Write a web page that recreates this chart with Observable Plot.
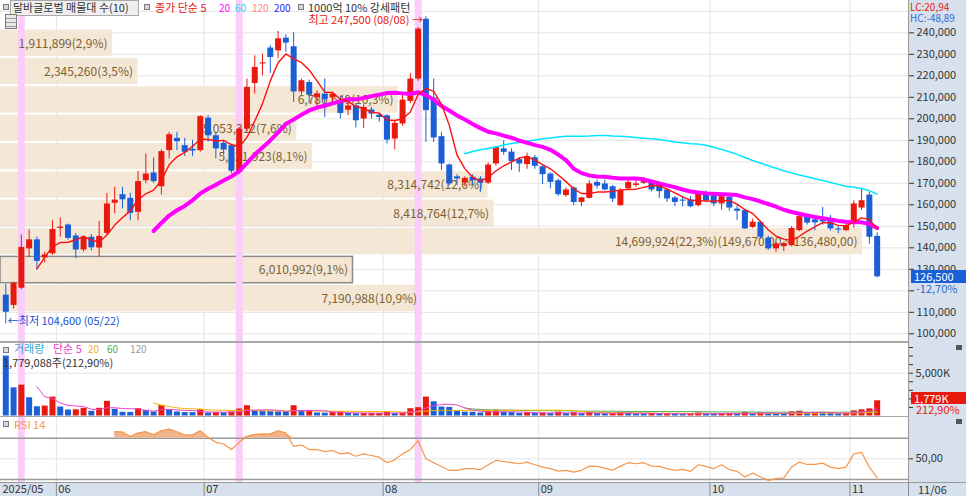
<!DOCTYPE html>
<html>
<head>
<meta charset="utf-8">
<script src="https://cdn.jsdelivr.net/npm/d3@7"></script>
<script src="https://cdn.jsdelivr.net/npm/@observablehq/plot@0.6"></script>
<style>
  body { margin: 0; background: #fff; }
  #wrap { position: relative; width: 966px; height: 496px; overflow: hidden; background: #fff;
          font-family: "Noto Sans CJK KR", "Noto Sans", sans-serif; }
  .t { position: absolute; white-space: nowrap; font-size: 11px; line-height: 11px; }
</style>
</head>
<body>
<div id="wrap"></div>
<script>
// 달바글로벌 일봉 2025/05/22 ~ 2025/11/06
const open = [118000,113200,121200,139500,143700,135300,137200,149000,150600,145500,
  139000,144900,139900,146700,160700,164700,163000,156500,171200,174800,
  168400,185200,190900,187500,185800,185200,200300,192100,188600,187500,
  175100,195200,216400,225500,232900,231600,237500,233500,212500,216900,
  209800,211500,209700,208400,204000,206100,199900,204100,201700,201400,
  190600,197600,208100,218500,246300,209600,191700,178500,173000,170100,
  172800,172000,170100,179000,186000,184500,181000,178700,181900,177700,
  174300,171200,164300,167800,161100,163000,170400,169700,168400,159600,
  167400,169000,170000,170800,169400,166900,163200,162200,162300,159600,
  165800,164200,160400,163500,158000,157300,149500,151800,144500,139500,
  140500,141000,148000,154200,153000,152700,152600,148800,148000,151100,
  158500,164500,145300]
const high = [123000,124000,146000,148300,145000,138000,152600,153900,151000,146700,
  145500,146200,152300,165300,168100,168100,165300,175500,183600,181800,
  185500,193700,193700,190900,190000,201500,201500,193500,190000,188000,
  196000,218500,229300,230100,234000,240600,239000,240100,218500,218000,
  213000,218500,212500,210500,208000,207000,206500,205300,202700,202000,
  199000,211000,221100,242500,247500,218500,193700,179000,173900,173000,
  173900,173100,179500,187000,189800,186000,182000,184000,183000,178500,
  175000,172000,167800,168400,163500,171200,171500,171500,169000,167500,
  172700,171200,172700,171500,170000,167500,163800,163500,163800,165800,
  166500,165500,165000,165000,159600,158000,153400,152500,145500,142600,
  142500,149800,156500,155000,154000,158800,155000,150300,151400,161900,
  167400,165800,147000]
const low = [104600,111500,120500,135600,129700,133000,136500,144900,143500,134900,
  138000,138500,135600,145500,155800,158100,152600,152600,169800,170000,
  164600,181300,185200,182500,182500,184500,189000,181300,183000,174500,
  174000,194000,211500,220000,221100,228000,230900,207600,211000,206900,
  205000,200600,207100,199900,201500,195700,195500,199900,198500,188300,
  185500,196500,207000,217500,189000,189000,176000,168900,169000,168500,
  168700,165800,169500,178000,183000,175900,175100,176500,176500,169400,
  167400,163800,163500,159600,159100,162700,167400,166500,161100,159300,
  166900,168000,169500,166000,163000,161100,159100,159000,158500,159000,
  161000,159000,157500,157000,152600,148500,149000,144000,138800,137900,
  138300,140500,147500,150500,148000,150500,147800,146500,147500,149100,
  157300,141700,126000]
const close = [110000,123500,140200,143700,133700,136700,148500,149600,144400,139000,
  144900,140000,145300,160400,162200,162300,156000,170800,174300,170800,
  184700,192600,189300,184400,185000,201000,192100,186000,185500,175600,
  195200,214600,223900,226000,228500,237200,235200,212500,217700,211000,
  211600,209000,211500,202500,206000,199100,205300,202200,200600,190100,
  197900,208700,218500,241700,203800,191100,179000,169700,172000,172300,
  171200,170000,178500,186700,184400,180100,179000,182400,177900,174000,
  170400,164700,166900,161100,163200,169700,168700,166900,162700,166600,
  170400,169700,171200,166900,166100,162700,161100,161700,159100,165000,
  161900,160400,163800,158500,157000,148800,151900,144900,139500,141800,
  142000,149000,154500,151500,151600,152000,148800,148300,150300,160400,
  161900,144900,126500]
// 거래량 (천 주)
const volK = [7000,3290,3600,2130,1080,1160,2210,1050,700,720,
  900,550,900,1710,780,430,420,850,660,470,
  1240,700,470,400,390,730,350,400,350,470,
  810,1200,580,550,520,480,450,1200,560,600,
  350,330,450,480,300,270,290,320,330,470,
  300,350,850,970,2210,1660,1050,1000,550,450,
  440,350,520,680,450,420,300,380,330,350,
  320,450,300,380,280,420,300,260,320,420,
  380,250,240,300,260,290,240,200,260,360,
  300,250,280,300,260,430,300,380,330,280,
  250,480,560,380,420,350,330,250,320,600,
  720,835.65,1779.088]
// RSI 14 (from the 15th session)
const rsiVals = [76.3,76,71.7,75,76.3,73.4,77.2,78.8,76.3,73,
  73,77.2,70.8,66,64.4,59,66,71.7,73.7,74,
  74,77.2,75,62.1,63.4,59,59,57,58,54.8,
  55.8,52.5,54.8,53.2,51.6,46.2,49,54.8,59,67.6,
  50,46.2,42.6,38.8,38.8,40.4,40.4,39.4,44.2,48.4,
  47.4,46.2,45.2,46.8,44.2,41.9,40.4,38.1,38.8,37.1,
  38.8,42.9,42.6,41,38.8,42.9,46.2,45.2,46.2,42.9,
  42.6,40.4,38.8,39.8,37.8,44.2,42.6,40.4,44.2,39.4,
  37.8,32.3,36.2,32.3,29.1,30.8,31.4,41.9,46.8,44.5,
  44.5,45.8,41.9,40.4,41.9,54.8,56.3,41.9,31.4]
const monthTicks = [{label: "2025/05", i: 0}, {label: "06", i: 7}, {label: "07", i: 26},
  {label: "08", i: 49}, {label: "09", i: 69}, {label: "10", i: 91}, {label: "11", i: 109}]
const eventIdx = [2, 30, 53]   // 1000억 10% 강세패턴
const hiDate = "08/08", loDate = "05/22", lastDate = "11/06"
// 매물대 (10 bands, top to bottom)
const bandHi = [242000,228810,215620,202430,189240,176050,162860,149670,136480,123290]
const bandLo = [228810,215620,202430,189240,176050,162860,149670,136480,123290,110100]
const bandVol = [1911899,2345260,6786640,5053312,5321923,8314742,8418764,14699924,6010992,7190988]
const bandPct = [2.9,3.5,10.3,7.6,8.1,12.6,12.7,22.3,9.1,10.9]

const RED = "#e8190e", BLUE = "#1a5fd6", PINK = "#facdfa", GRID = "#e4e4e4"
const FONT = '"Noto Sans CJK KR","Noto Sans",sans-serif'
const fmt = d3.format(",")
const comma = (v, n) => v.toFixed(n).replace(".", ",")
const wrap = document.getElementById("wrap")

const candles = close.map((c, i) => ({
  i, open: open[i], high: high[i], low: low[i], close: c, vol: volK[i],
  color: c >= open[i] ? RED : BLUE,
  vcolor: i > 0 && volK[i] >= volK[i - 1] ? RED : BLUE
}))
const rsiData = rsiVals.map((r, j) => ({i: j + 14, rsi: r}))
const maxBand = d3.max(bandVol)
const bands = bandVol.map((v, j) => ({
  lo: bandLo[j], hi: bandHi[j], vol: v,
  label: `${fmt(v)}(${comma(bandPct[j], 1)}%)` + (v === maxBand ? `(${fmt(bandHi[j])},00 ~ ${fmt(bandLo[j])},00)` : "")
}))
const last = candles[candles.length - 1], prev = candles[candles.length - 2]
const hiC = candles[d3.maxIndex(high)], loC = candles[d3.minIndex(low)]

const base = (h, extra = {}) => ({
  width: 966, height: h, marginLeft: 0, marginRight: 58, marginTop: 0, marginBottom: 0,
  style: Object.assign({background: "transparent", fontFamily: FONT, fontSize: "11px", color: "#333", overflow: "visible"}, extra)
})
const xIdx = {domain: [-0.68, 116.03], axis: null}
const priceDomain = [95953, 255023]
const monthRules = () => Plot.ruleX(monthTicks.slice(1), {x: d => d.i - 0.5, stroke: GRID})
const pinkRules = () => Plot.ruleX(eventIdx, {x: d => d, stroke: PINK, strokeWidth: 7})
const ma = (rows, k, field, stroke, strokeWidth) => Plot.lineY(rows, Plot.windowY(
  {k, anchor: "end", reduce: v => v.length < k ? NaN : d3.mean(v)},
  {x: "i", y: field, stroke, strokeWidth}))

function put(el, top) {
  el.style.position = "absolute"; el.style.left = "0px"; el.style.top = top + "px"
  wrap.append(el); return el
}
function div(left, top, w, h, css = {}) {
  const d = document.createElement("div")
  Object.assign(d.style, {position: "absolute", left: left + "px", top: top + "px", width: w + "px", height: h + "px"}, css)
  wrap.append(d); return d
}
function text(txt, left, top, color, css = {}) {
  const d = document.createElement("div")
  d.className = "t"; d.textContent = txt
  Object.assign(d.style, {left: left + "px", top: top + "px", color}, css)
  wrap.append(d); return d
}
const box = (left, top) => div(left, top, 4, 4, {border: "1px solid #7a7a7a", background: "#d8d8d8"})

// axis strip
div(908, 0, 58, 496, {background: "#d7e1ee", borderLeft: "1px solid #9a9a9a", boxSizing: "border-box"})

// price panel: grid, 매물대 boxes, event bands, box labels, candles
put(Plot.plot({...base(342), x: xIdx, y: {domain: priceDomain, axis: null}, marks: [
  Plot.ruleY(d3.range(100000, 250001, 10000), {stroke: GRID}),
  monthRules()
]}), 0)
put(Plot.plot({...base(342), x: {domain: [0, maxBand / 0.9493], axis: null}, y: {domain: priceDomain, axis: null}, marks: [
  Plot.rect(bands, {x1: 0, x2: "vol", y1: "lo", y2: "hi", fill: "#f4e7d5", insetTop: 1.5, insetBottom: 0.5}),
  Plot.rect(bands.filter(d => d.lo <= last.close && last.close < d.hi),
    {x1: 0, x2: "vol", y1: "lo", y2: "hi", fill: "none", stroke: "#8a8a8a", strokeWidth: 1.5, insetTop: 1.5, insetBottom: 0.5})
]}), 0)
put(Plot.plot({...base(342), x: xIdx, y: {domain: priceDomain, axis: null}, marks: [pinkRules()]}), 0)
put(Plot.plot({...base(342), x: {domain: [0, maxBand / 0.9493], axis: null}, y: {domain: priceDomain, axis: null}, marks: [
  Plot.text(bands, {x: "vol", y: d => (d.lo + d.hi) / 2, text: "label", textAnchor: "end", dx: -5, dy: 1, fill: "#7a6132", fontSize: 12})
]}), 0)
// the 120,000 label sits under the change-rate text, as in the source terminal
const priceChart = put(Plot.plot({...base(342), x: xIdx,
  y: {domain: priceDomain, axis: "right", ticks: d3.range(100000, 240001, 10000), tickFormat: d => d === 120000 ? "" : fmt(d), tickSize: 5, tickPadding: 3, label: null},
  marks: [
    Plot.ruleX(candles, {x: "i", y1: "low", y2: "high", stroke: "color", strokeWidth: 1}),
    Plot.ruleX(candles, {x: "i", y1: "open", y2: "close", stroke: "color", strokeWidth: 6}),
    ma(candles, 60, "close", "#00e4ff", 1.5),
    ma(candles, 20, "close", "#ff00ff", 4),
    ma(candles, 5, "close", "#ff1010", 1.4),
    Plot.text([hiC], {x: "i", y: "high", text: d => `최고 ${fmt(d.high)} (${hiDate}) →`, textAnchor: "end", dx: -3, dy: 4, fill: RED, fontSize: 11}),
    Plot.text([loC], {x: "i", y: "low", text: d => `←최저 ${fmt(d.low)} (${loDate})`, textAnchor: "start", dx: 2, dy: -2, fill: "#2050d0", fontSize: 11})
  ]}), 0)

// volume panel
const volChart = put(Plot.plot({...base(74), x: xIdx,
  y: {domain: [-58, 8587], axis: "right", ticks: d3.range(1000, 8001, 1000), tickFormat: d => d === 5000 ? "5,000K" : "", tickSize: 4, tickPadding: 3, label: null},
  marks: [
    Plot.ruleY([5000], {stroke: GRID}),
    monthRules(), pinkRules(),
    Plot.ruleX(candles, {x: "i", y1: 0, y2: "vol", stroke: "vcolor", strokeWidth: 6}),
    ma(candles, 60, "vol", "#4cb050", 1),
    ma(candles, 20, "vol", "#f5b800", 1),
    ma(candles, 5, "vol", "#ee44cc", 1)
  ]}), 342)

// RSI panel
put(Plot.plot({...base(66), x: xIdx,
  y: {domain: [26.99, 91.07], axis: "right", ticks: [50], tickFormat: d => comma(d, 2), tickSize: 4, tickPadding: 3, label: null},
  marks: [
    Plot.ruleY([50], {stroke: GRID}),
    monthRules(), pinkRules(),
    Plot.ruleY([70, 30], {stroke: "#9a9a9a", strokeWidth: 1.5}),
    Plot.areaY(rsiData, {x: "i", y1: 70, y2: d => Math.max(d.rsi, 70), fill: "#f2b48c"}),
    Plot.lineY(rsiData, {x: "i", y: "rsi", stroke: "#f7964a", strokeWidth: 1.2})
  ]}), 416)

// date bar
div(0, 482, 966, 14, {background: "#d7e1ee", borderTop: "1px solid #9a9a9a", boxSizing: "border-box"})
put(Plot.plot({...base(14), x: xIdx, y: {domain: [0, 1], axis: null}, marks: [
  Plot.ruleX(monthTicks.slice(1), {x: d => d.i - 0.5, stroke: "#8a8a8a"}),
  Plot.text(monthTicks, {x: d => d.i === 0 ? -0.68 : d.i - 0.5, y: 0.5, text: "label", textAnchor: "start", dx: 2, fill: "#333", fontSize: 11})
]}), 482)
div(908, 482, 1, 14, {background: "#8a8a8a"})
text(lastDate, 918, 484, "#333")

// panel separators
div(0, 341, 908, 2, {background: "#a8a8a8"})
div(0, 415.5, 908, 1.5, {background: "#a8a8a8"})

// price legend row
box(3, 4)
text("달바글로벌 매물대 수(10)", 10, 0, "#333", {border: "1px solid #a8a8a8", background: "#efefef", padding: "1px 2px", height: "12px", width: "123px"})
box(144, 4)
text("종가 단순 5", 155, 2, RED)
text("20", 219, 2, "#ff00ff", {fontSize: "10px"})
text("60", 235, 2, "#22d8f0", {fontSize: "10px"})
text("120", 252, 2, "#ff8a80", {fontSize: "10px"})
text("200", 274, 2, "#2a2ae0", {fontSize: "10px"})
box(298, 4)
text("1000억 10% 강세패턴", 308, 2, "#333")
div(5, 14, 10, 13, {border: "1px solid #7a7a7a", background: "repeating-linear-gradient(#e8e8e8 0 3px,#9a9a9a 3px 4px)"})
text(`LC:${comma((last.close / loC.low - 1) * 100, 2)}`, 910, 2, RED, {fontSize: "10px", lineHeight: "10px"})
text(`HC:${comma((last.close / hiC.high - 1) * 100, 2)}`, 910, 13, "#2e6bd0", {fontSize: "10px", lineHeight: "10px"})

// current price tag
const yP = priceChart.scale("y").apply(last.close)
text(fmt(last.close), 911, yP - 6.5, "#fff", {background: BLUE, width: "52px", paddingLeft: "3px", lineHeight: "13px"})
text(`${comma((last.close / prev.close - 1) * 100, 2)}%`, 916, yP + 7, "#2e6bd0", {background: "#d7e1ee", paddingRight: "6px"})

// volume legend and tag
box(3, 347)
text("거래량", 14, 343, "#3aa6c8")
text("단순 5", 53, 343, "#ee44cc")
text("20", 88, 343, "#f0b020", {fontSize: "10px"})
text("60", 107, 343, "#4cb050", {fontSize: "10px"})
text("120", 130, 343, "#9a9a9a", {fontSize: "10px"})
text(`${fmt(Math.round(last.vol * 1000))}주(${comma(last.vol / prev.vol * 100, 2)}%)`, 3, 357, "#333")
const yV = 342 + volChart.scale("y").apply(last.vol)
text(`${fmt(Math.round(last.vol))}K`, 911, yV - 8.5, "#fff", {background: RED, width: "52px", paddingLeft: "3px", lineHeight: "12px"})
text(`${comma(last.vol / prev.vol * 100, 2)}%`, 916, yV + 4, RED)
div(956, 345, 6, 5, {background: "#555"})

// RSI legend
box(3, 421)
text("RSI 14", 14, 419, "#f7964a")
div(956, 419, 6, 5, {background: "#555"})
</script>
</body>
</html>
